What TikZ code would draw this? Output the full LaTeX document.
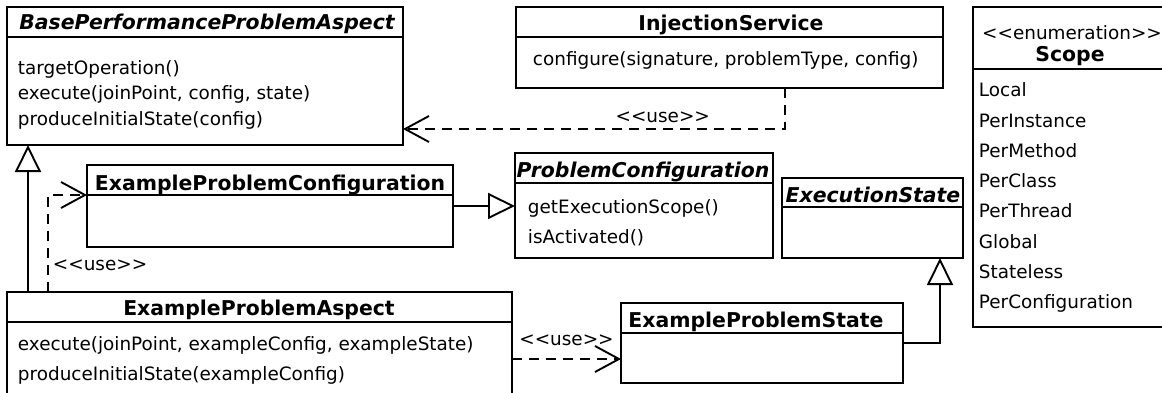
\documentclass[tikz,border=0pt]{standalone}
\usepackage{fontspec}
\setmainfont{DejaVu Sans}
\usetikzlibrary{arrows.meta}

\begin{document}
\begin{tikzpicture}[x=1pt, y=-1pt, line width=1.9pt,
        font=\fontsize{18.4}{22}\selectfont]

            % Stijlen voor klassen en relaties
            \tikzset{
                classbox/.style={draw, anchor=north west, inner sep=0pt, outer sep=0pt},
                title/.style={anchor=base, inner sep=0pt, font=\fontsize{20.4}{24}\selectfont\bfseries},
                abstitle/.style={title, font=\fontsize{20.4}{24}\selectfont\bfseries\itshape},
                member/.style={anchor=base west, inner sep=0pt},
                inherit/.style={-{Triangle[open, fill=white, length=27pt, width=26pt]}},
                uses/.style={dash pattern=on 10pt off 7pt, -{Straight Barb[length=24pt, width=26pt]}}
            }

            \useasboundingbox (0,0) rectangle (1162,393);
            \clip (0,0) rectangle (1162,393);

            % --- KLASSEN ---
            \node[classbox, minimum width=396pt, minimum height=138pt] (base) at (7,7) {};
            \node[classbox, minimum width=427pt, minimum height=81pt] (inject) at (516,7) {};
            \node[classbox, minimum width=197pt, minimum height=320pt] (scope) at (973,7) {};
            \node[classbox, minimum width=366pt, minimum height=82pt] (exconf) at (87,165) {};
            \node[classbox, minimum width=258pt, minimum height=105pt] (probconf) at (515,153) {};
            \node[classbox, minimum width=181pt, minimum height=80pt] (execstate) at (782,178) {};
            \node[classbox, minimum width=282pt, minimum height=80pt] (exstate) at (621,303) {};
            \node[classbox, minimum width=505pt, minimum height=108pt] (exaspect) at (7,292) {};

            % Scheidingslijn onder elke klassenaam
            \foreach \b/\h in {base/30, inject/30, scope/62, exconf/30, probconf/30,
                    execstate/29, exstate/30, exaspect/30} {
                \draw ([yshift=-\h pt]\b.north west) -- ([yshift=-\h pt]\b.north east);
            }

            % --- NAMEN ---
            \node[abstitle] (base-title) at (207,30) {BasePerformanceProblemAspect};
            \node[title] (inject-title) at (731,31) {InjectionService};
            \node[anchor=base, inner sep=0pt] (scope-stereo) at (1072,40) {{<}{<}enumeration{>}{>}};
            \node[title] (scope-title) at (1070,62) {Scope};
            \node[title] (exconf-title) at (270,190) {ExampleProblemConfiguration};
            \node[abstitle] (probconf-title) at (643,177) {ProblemConfiguration};
            \node[abstitle] (execstate-title) at (873,202) {ExecutionState};
            \node[title] (exstate-title) at (756,327) {ExampleProblemState};
            \node[title] (exaspect-title) at (259,315) {ExampleProblemAspect};

            % --- OPERATIES ---
            \foreach \i/\y/\t in {1/75/targetOperation(), 2/100/{execute(joinPoint, config, state)},
                    3/126/produceInitialState(config)} {
                \node[member] (base-op\i) at (17,\y) {\t};
            }
            \node[member] (inject-op1) at (532,66) {configure(signature, problemType, config)};
            \node[member] (probconf-op1) at (527,213) {getExecutionScope()};
            \node[member] (probconf-op2) at (527,243) {isActivated()};
            \node[member] (exaspect-op1) at (17,350) {execute(joinPoint, exampleConfig, exampleState)};
            \node[member] (exaspect-op2) at (17,380) {produceInitialState(exampleConfig)};

            % Waarden van de enumeratie
            \foreach \t [count=\i] in {Local, PerInstance, PerMethod, PerClass, PerThread,
                    Global, Stateless, PerConfiguration} {
                \node[member] (scope-\i) at (978, {97+30.2*(\i-1)}) {\t};
            }

            % --- RELATIES ---
            \coordinate (asp-up) at ([xshift=21pt]exaspect.north west);
            \draw[inherit] (asp-up) -- (asp-up |- base.south);

            \coordinate (asp-dep) at ([xshift=41pt]exaspect.north west);
            \coordinate (conf-in) at ([yshift=-30pt]exconf.north west);
            \draw[uses] (asp-dep) |- (conf-in)
                node[pos=0.14, anchor=west, xshift=4pt, inner sep=0pt] (use-conf) {{<}{<}use{>}{>}};

            \draw[inherit] (exconf.east) -- (exconf.east -| probconf.west);

            \coordinate (inj-out) at ([xshift=-158pt]inject.south east);
            \coordinate (base-in) at ([yshift=16pt]base.south east);
            \draw[uses] (inj-out) |- (base-in)
                node[pos=0.66, above=5pt, inner sep=0pt] (use-base) {{<}{<}use{>}{>}};

            \coordinate (asp-out) at ([yshift=-67pt]exaspect.north east);
            \draw[uses] (asp-out) -- (asp-out -| exstate.west)
                node[midway, above=12pt, inner sep=0pt] (use-state) {{<}{<}use{>}{>}};

            \coordinate (state-in) at ([xshift=-23pt]execstate.south east);
            \draw[inherit] (exstate.east) -| (state-in);

        \end{tikzpicture}
\end{document}
